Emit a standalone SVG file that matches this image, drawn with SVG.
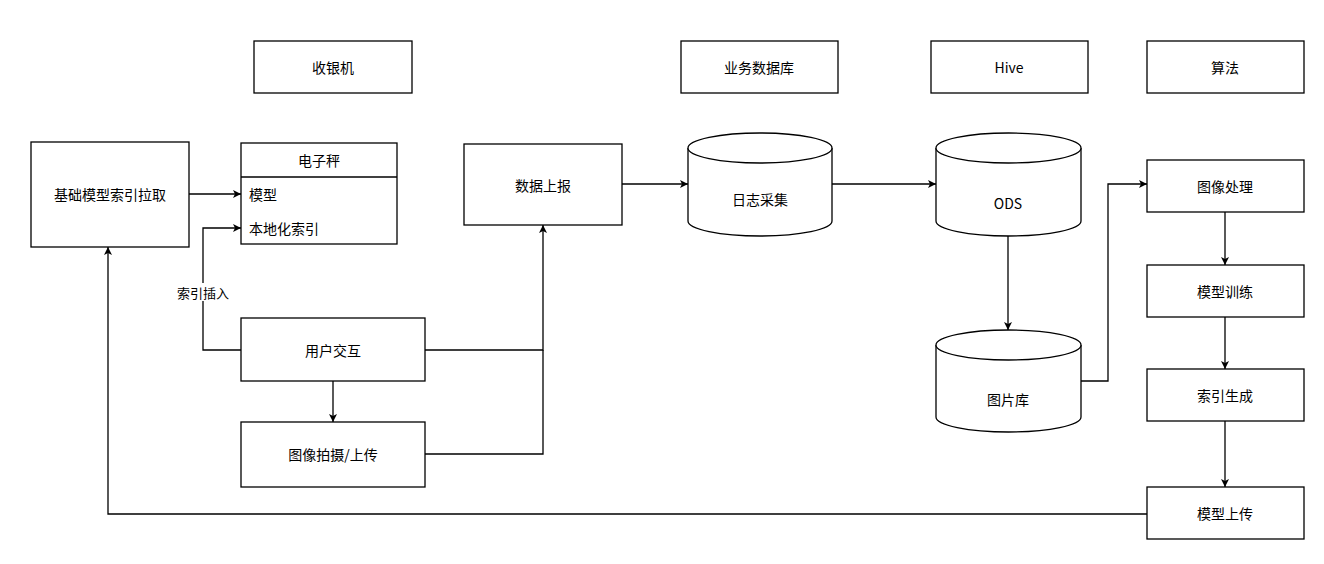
<svg xmlns="http://www.w3.org/2000/svg" width="1324" height="564" viewBox="0 0 1324 564">
<style>
.b{fill:#fff;stroke:#000;stroke-width:1.3}
.c{fill:none;stroke:#000;stroke-width:1.3}
text{font-family:"Noto Sans CJK SC","Liberation Sans",sans-serif;font-size:14px;fill:#000;dominant-baseline:central}
.m{text-anchor:middle}
</style>
<defs><marker id="a" markerWidth="10" markerHeight="10" refX="9" refY="5" orient="auto" markerUnits="userSpaceOnUse"><path d="M1,1 L9,5 L1,9 L3,5 Z" fill="#000"/></marker></defs>
<rect width="1324" height="564" fill="#fff"/>
<g id="h1"><rect class="b" x="254" y="41" width="158" height="52"/><text class="m" x="333" y="67">收银机</text></g>
<g id="h2"><rect class="b" x="681" y="41" width="157" height="52"/><text class="m" x="759" y="67">业务数据库</text></g>
<g id="h3"><rect class="b" x="931" y="41" width="157" height="52"/><text class="m" x="1009" y="67">Hive</text></g>
<g id="h4"><rect class="b" x="1147" y="41" width="157" height="52"/><text class="m" x="1225" y="67">算法</text></g>
<g id="pull"><rect class="b" x="31" y="142" width="158" height="105"/><text class="m" x="110" y="194">基础模型索引拉取</text></g>
<g id="scale"><rect class="b" x="241" y="143" width="156" height="101"/><line class="c" x1="241" y1="177" x2="397" y2="177"/><text class="m" x="319" y="160">电子秤</text><text x="249" y="194">模型</text><text x="249" y="228">本地化索引</text></g>
<g id="report"><rect class="b" x="464" y="144" width="158" height="81"/><text class="m" x="543" y="185">数据上报</text></g>
<g id="log"><path class="b" d="M688,148 v73 a72,15 0 0 0 144,0 v-73"/><ellipse class="b" cx="760" cy="148" rx="72" ry="15"/><text class="m" x="760" y="199">日志采集</text></g>
<g id="ods"><path class="b" d="M936,148 v73 a72.5,15 0 0 0 145,0 v-73"/><ellipse class="b" cx="1008.5" cy="148" rx="72.5" ry="15"/><text class="m" x="1008" y="203">ODS</text></g>
<g id="img"><path class="b" d="M936,345 v72 a72.5,15 0 0 0 145,0 v-72"/><ellipse class="b" cx="1008.5" cy="345" rx="72.5" ry="15"/><text class="m" x="1008" y="399">图片库</text></g>
<g id="proc"><rect class="b" x="1147" y="160" width="157" height="52"/><text class="m" x="1225" y="186">图像处理</text></g>
<g id="train"><rect class="b" x="1147" y="265" width="157" height="52"/><text class="m" x="1225" y="291">模型训练</text></g>
<g id="idx"><rect class="b" x="1147" y="369" width="157" height="52"/><text class="m" x="1225" y="395">索引生成</text></g>
<g id="up"><rect class="b" x="1147" y="487" width="157" height="52"/><text class="m" x="1225" y="513">模型上传</text></g>
<g id="ui"><rect class="b" x="241" y="318" width="184" height="63"/><text class="m" x="333" y="350">用户交互</text></g>
<g id="cap"><rect class="b" x="241" y="422" width="184" height="65"/><text class="m" x="333" y="454">图像拍摄/上传</text></g>
<g id="edges">
<path class="c" marker-end="url(#a)" d="M189,194 H241"/>
<path class="c" marker-end="url(#a)" d="M241,350 H203 V228 H241"/>
<rect x="170" y="283" width="66" height="18" fill="#fff"/><text class="m" x="203" y="292" style="font-size:13px">索引插入</text>
<path class="c" marker-end="url(#a)" d="M425,350 H543 V225"/>
<path class="c" d="M425,454 H543 V350"/>
<path class="c" marker-end="url(#a)" d="M333,381 V422"/>
<path class="c" marker-end="url(#a)" d="M622,184 H688"/>
<path class="c" marker-end="url(#a)" d="M832,184 H936"/>
<path class="c" marker-end="url(#a)" d="M1008,236 V330"/>
<path class="c" marker-end="url(#a)" d="M1081,381 H1108 V184 H1147"/>
<path class="c" marker-end="url(#a)" d="M1225,212 V265"/>
<path class="c" marker-end="url(#a)" d="M1225,317 V369"/>
<path class="c" marker-end="url(#a)" d="M1225,421 V487"/>
<path class="c" marker-end="url(#a)" d="M1147,514 H108 V247"/>
</g>
</svg>
